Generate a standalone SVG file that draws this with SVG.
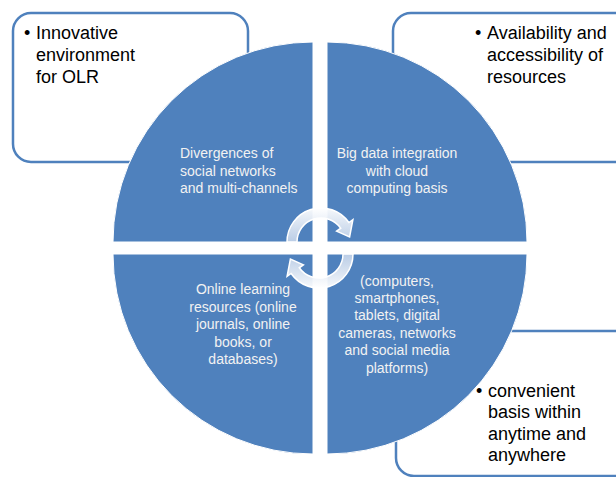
<svg xmlns="http://www.w3.org/2000/svg" width="616" height="477" viewBox="0 0 616 477">
<style>
.box{fill:#fff;stroke:#4f81bd;stroke-width:2.5}
.q{fill:#4f81bd;stroke:#fff;stroke-width:1}
.bt{font-family:"Liberation Sans",Arial,sans-serif;font-size:18px;fill:#000}
.ct{font-family:"Liberation Sans",Arial,sans-serif;font-size:14px;fill:#f2f2f2}
.mid{text-anchor:middle}
.arr{fill:url(#ag);stroke:#fff;stroke-width:1.5}
</style>
<defs>
<linearGradient id="ag" x1="0" y1="0" x2="0" y2="1">
<stop offset="0" stop-color="#ffffff" stop-opacity="0.95"/>
<stop offset="1" stop-color="#c6d5ea" stop-opacity="0.9"/>
</linearGradient>
</defs>
<rect width="616" height="477" fill="#fff"/>
<g id="box-tl">
<rect class="box" x="13" y="13" width="235" height="149" rx="18"/>
<text class="bt" x="24" y="39">•</text>
<text class="bt" x="36" y="39">Innovative</text>
<text class="bt" x="36" y="61">environment</text>
<text class="bt" x="36" y="83">for OLR</text>
</g>
<g id="box-tr">
<rect class="box" x="393" y="13" width="245" height="149" rx="18"/>
<text class="bt" x="475" y="39">•</text>
<text class="bt" x="487" y="39">Availability and</text>
<text class="bt" x="487" y="61">accessibility of</text>
<text class="bt" x="487" y="83">resources</text>
</g>
<g id="box-br">
<rect class="box" x="396" y="331" width="245" height="145" rx="18"/>
<text class="bt" x="476" y="397">•</text>
<text class="bt" x="488" y="397">convenient</text>
<text class="bt" x="488" y="418">basis within</text>
<text class="bt" x="488" y="440">anytime and</text>
<text class="bt" x="488" y="461">anywhere</text>
</g>
<g id="q-tl">
<path class="q" d="M313 242 L113 242 A200 200 0 0 1 313 42 Z"/>
<text class="ct" x="180" y="158">Divergences of</text>
<text class="ct" x="180" y="176">social networks</text>
<text class="ct" x="180" y="193">and multi-channels</text>
</g>
<g id="q-tr">
<path class="q" d="M327 242 L327 42 A200 200 0 0 1 527 242 Z"/>
<text class="ct mid" x="397" y="158">Big data integration</text>
<text class="ct mid" x="397" y="176">with cloud</text>
<text class="ct mid" x="397" y="193">computing  basis</text>
</g>
<g id="q-bl">
<path class="q" d="M313 254 L313 454 A200 200 0 0 1 113 254 Z"/>
<text class="ct mid" x="243" y="294">Online learning</text>
<text class="ct mid" x="243" y="312">resources (online</text>
<text class="ct mid" x="243" y="329">journals, online</text>
<text class="ct mid" x="243" y="347">books, or</text>
<text class="ct mid" x="243" y="364">databases)</text>
</g>
<g id="q-br">
<path class="q" d="M327 254 L527 254 A200 200 0 0 1 327 454 Z"/>
<text class="ct mid" x="397" y="286">(computers,</text>
<text class="ct mid" x="397" y="303">smartphones,</text>
<text class="ct mid" x="397" y="320">tablets, digital</text>
<text class="ct mid" x="397" y="338">cameras, networks</text>
<text class="ct mid" x="397" y="355">and social media</text>
<text class="ct mid" x="397" y="373">platforms)</text>
</g>
<g id="connectors">
<path class="arr" d="M287 242 A34 34 0 0 1 348.9 222.5 L352.9 219.6 L349.6 237 L336.6 231.1 L340.7 228.2 A24 24 0 0 0 297 242 Z"/>
<path class="arr" transform="rotate(180 320 248)" d="M287 242 A34 34 0 0 1 348.9 222.5 L352.9 219.6 L349.6 237 L336.6 231.1 L340.7 228.2 A24 24 0 0 0 297 242 Z"/>
</g>
</svg>
